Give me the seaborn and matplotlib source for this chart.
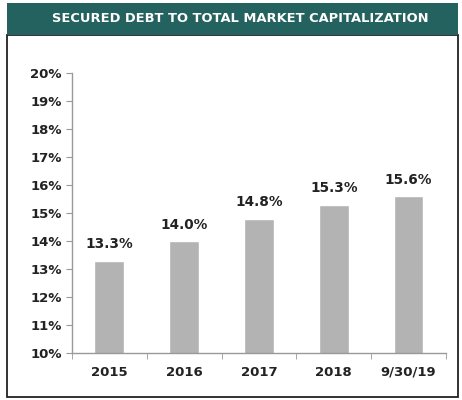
import numpy as np
import pandas as pd
import seaborn as sns
import matplotlib.pyplot as plt
from matplotlib.patches import Rectangle
from matplotlib.ticker import FixedLocator

# chart data
periods = ['2015', '2016', '2017', '2018', '9/30/19']
secured_pct = [13.3, 14.0, 14.8, 15.3, 15.6]
y_ticks = list(range(10, 21))

df = pd.DataFrame({'period': periods, 'pct': secured_pct})

sns.set_style('white')
plt.rcParams['font.family'] = ['DejaVu Sans']

fig = plt.figure(figsize=(4.62, 4.0), dpi=100)
ax = fig.add_axes([0.156, 0.1175, 0.809, 0.70])

sns.barplot(data=df, x='period', y='pct', color='#b3b3b3', width=0.4,
            saturation=1, ax=ax)

ax.set_ylim(10, 20)
ax.set_yticks(y_ticks)
ax.set_yticklabels([f'{t}%' for t in y_ticks])
ax.set_xlim(-0.5, len(periods) - 0.5)
ax.set_xlabel('')
ax.set_ylabel('')

# value labels on top of each bar
for i, v in enumerate(secured_pct):
    ax.text(i, v + 0.33, f'{v:.1f}%', ha='center', va='bottom',
            fontsize=9.8, fontweight='bold', color='#222222')

# axis styling: ticks between categories on x, outward on y
for side in ['top', 'right']:
    ax.spines[side].set_visible(False)
for side in ['left', 'bottom']:
    ax.spines[side].set_color('#999999')
    ax.spines[side].set_linewidth(1.0)
ax.xaxis.set_minor_locator(FixedLocator(np.arange(-0.5, len(periods), 1.0)))
ax.tick_params(axis='x', which='major', length=0, pad=9,
               labelsize=9.5, labelcolor='#222222')
ax.tick_params(axis='x', which='minor', length=4, color='#999999',
               direction='out', bottom=True)
ax.tick_params(axis='y', length=4, color='#999999', direction='out',
               left=True, labelsize=9.5, labelcolor='#222222')
for lab in ax.get_xticklabels() + ax.get_yticklabels():
    lab.set_fontweight('bold')

# outer frame and title banner
fig.patches.append(Rectangle((7 / 462, 3 / 400), 451 / 462, 362 / 400,
                             transform=fig.transFigure, fill=False,
                             edgecolor='#222222', linewidth=1.3))
fig.patches.append(Rectangle((7 / 462, 365 / 400), 451 / 462, 32 / 400,
                             transform=fig.transFigure, facecolor='#24625f',
                             edgecolor='none'))
fig.text(240 / 462, 381 / 400, 'SECURED DEBT TO TOTAL MARKET CAPITALIZATION',
         ha='center', va='center', color='white', fontsize=9.4,
         fontweight='bold')

fig.savefig('out.png', dpi=100)
